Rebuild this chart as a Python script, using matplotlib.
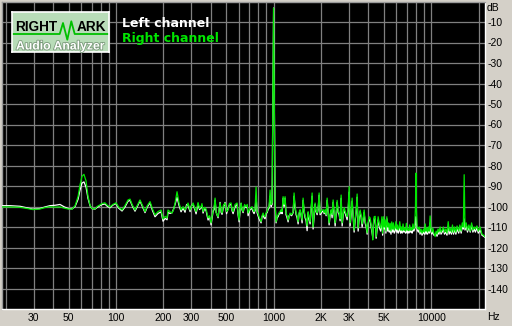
import matplotlib
matplotlib.use("Agg")
import matplotlib.pyplot as plt
from matplotlib import patheffects

# spectrum: frequency (Hz), right channel (green), left channel (white), dB
freq = [
    18.9, 21.2, 24.6, 27.0, 29.7, 32.9, 35.5, 38.1, 41.0, 44.1, 47.0, 49.6, 52.6, 55.0, 57.4, 59.1,
    60.8, 62.6, 64.5, 66.4, 68.5, 70.4, 73.5, 76.0, 79.1, 82.0, 85.1, 88.0, 91.6, 95.5, 100, 104,
    109.2, 114.1, 119.2, 122.7, 127, 132, 137, 142, 147, 152.8, 158, 164.4, 170, 176.8, 184.8, 193.1,
    198.8, 205, 210.8, 213.9, 220, 226.8, 232, 237, 243.9, 251.2, 258.6, 266.3, 274.2, 280.5, 286.5, 295.1,
    301, 308.3, 315, 322.2, 331.6, 339, 346.6, 351, 356.8, 365, 372.8, 383.9, 392, 401.1, 407, 413,
    419, 425.3, 432, 444.3, 451, 457.5, 465, 471, 480, 492.1, 503, 514.2, 525, 537.3, 545, 553.3,
    570, 586.5, 595, 604, 612, 621.9, 630, 640.4, 655, 669, 680, 689, 708, 730.3, 740, 751.9,
    763, 774.3, 785.7, 797, 808.9, 820, 833.1, 845, 857.7, 870, 883.1, 897, 909.3, 922.7, 936, 950.1,
    964, 978, 1000, 1022, 1037, 1053, 1068, 1085, 1100, 1116, 1132, 1149, 1166, 1183, 1200, 1218,
    1236, 1255, 1273, 1301, 1330, 1349, 1370, 1390, 1410, 1431, 1452, 1473, 1495, 1517, 1539, 1562,
    1585, 1608, 1632, 1656, 1680, 1705, 1730, 1756, 1781, 1808, 1834, 1860, 1889, 1917, 1945, 1973,
    2018, 2063, 2093, 2123, 2155, 2187, 2220, 2251, 2284, 2318, 2352, 2387, 2422, 2458, 2494, 2531,
    2568, 2606, 2644, 2683, 2723, 2763, 2804, 2866, 2929, 2972, 3016, 3060, 3105, 3151, 3197, 3244,
    3292, 3340, 3390, 3440, 3490, 3542, 3594, 3647, 3700, 3755, 3810, 3867, 3924, 3981, 4040, 4100,
    4160, 4221, 4260, 4300, 4346, 4410, 4475, 4541, 4608, 4630, 4700, 4780, 4870, 4920, 4990, 5045,
    5100, 5160, 5230, 5300, 5360, 5420, 5490, 5560, 5620, 5690, 5760, 5830, 5900, 5970, 6040, 6110,
    6180, 6250, 6320, 6400, 6470, 6550, 6630, 6700, 6790, 6880, 6960, 7050, 7130, 7220, 7300, 7390,
    7480, 7570, 7660, 7760, 7860, 7950, 8000, 8050, 8150, 8300, 8400, 8500, 8620, 8750, 8950, 9060,
    9160, 9270, 9380, 9490, 9600, 9730, 9850, 9970, 10100, 10240, 10400, 10600, 10750, 10900, 11050, 11200,
    11400, 11550, 11750, 11960, 12150, 12380, 12600, 12830, 13000, 13200, 13450, 13650, 13870, 14100, 14350, 14600,
    14960, 15200, 15500, 15750, 16000, 16200, 16400, 16700, 17000, 17350, 17700, 18050, 18400, 18750, 19080, 19500,
    19900, 20470, 21000, 21500, 21960,
]
right_db = [
    -100.2, -100.2, -100.4, -100.9, -101.5, -101.2, -100.5, -100.1, -100.3, -100.2, -100.8, -101.2, -101.3, -99.6, -95.2, -89.5,
    -85.3, -84.3, -87.5, -95.0, -99.5, -101.0, -101.2, -100.0, -99.2, -98.5, -98.2, -99.4, -100.2, -99.0, -98.2, -100.3,
    -101.7, -99.5, -96.8, -96.4, -99.3, -101.7, -99.2, -96.8, -99.4, -102.5, -99.6, -97.6, -101.0, -104.1, -102.5, -101.7,
    -106.1, -104.8, -105.6, -101.7, -102.6, -103.2, -101.5, -98.3, -92.8, -98.3, -101.7, -100.1, -101.7, -100.0, -98.3, -101.7,
    -100.0, -98.3, -100.5, -102.5, -98.1, -101.0, -100.1, -98.6, -102.5, -100.4, -101.2, -105.6, -104.5, -108.0, -105.0, -101.7,
    -100.5, -95.9, -103.0, -105.0, -101.0, -98.3, -102.0, -103.2, -99.5, -98.3, -102.5, -101.7, -98.5, -98.3, -101.5, -102.5,
    -99.0, -98.3, -103.0, -106.6, -102.0, -98.3, -101.0, -102.5, -99.0, -100.1, -99.0, -103.2, -101.0, -100.1, -101.5, -102.5,
    -101.0, -90.5, -102.5, -103.5, -105.0, -106.0, -107.4, -104.5, -103.2, -104.5, -105.0, -103.0, -102.5, -100.7, -100.0, -92.0,
    -99.0, -98.0, -3.2, -98.0, -107.5, -105.0, -104.1, -103.0, -102.5, -101.5, -102.5, -95.2, -99.0, -95.2, -103.2, -104.5,
    -106.6, -105.0, -103.2, -104.0, -102.5, -93.4, -100.0, -103.2, -104.5, -107.4, -103.0, -101.5, -104.0, -106.6, -95.9, -102.0,
    -104.5, -106.0, -109.5, -102.5, -105.0, -107.4, -101.0, -93.4, -110.0, -104.0, -98.3, -102.0, -103.2, -101.0, -93.4, -103.2,
    -102.0, -101.5, -103.0, -101.5, -104.0, -95.9, -103.0, -108.0, -104.0, -101.5, -104.0, -96.8, -103.0, -108.0, -103.0, -97.0,
    -102.0, -103.2, -106.0, -94.4, -108.0, -104.0, -100.5, -103.0, -105.0, -101.0, -90.3, -108.0, -103.0, -95.9, -104.0, -111.5,
    -106.0, -102.0, -93.9, -110.5, -105.0, -101.7, -104.5, -108.5, -106.0, -101.7, -107.0, -109.0, -112.9, -108.0, -105.0, -105.6,
    -109.0, -112.3, -116.3, -108.0, -105.0, -104.8, -114.7, -110.0, -105.0, -106.0, -109.0, -110.5, -105.0, -113.0, -105.0, -110.0,
    -106.5, -112.0, -105.0, -110.0, -108.0, -111.5, -108.2, -112.0, -107.5, -111.0, -108.0, -111.5, -110.5, -107.4, -111.0, -109.0,
    -111.5, -110.5, -107.4, -111.5, -110.0, -111.8, -108.5, -111.5, -110.5, -112.0, -108.2, -111.5, -111.0, -111.8, -109.0, -111.5,
    -110.5, -111.5, -108.5, -111.0, -110.0, -100.0, -83.7, -100.0, -110.5, -111.0, -110.0, -112.5, -111.0, -113.0, -111.0, -112.5,
    -108.5, -112.0, -110.5, -112.5, -110.0, -112.0, -104.6, -111.0, -112.5, -110.5, -113.0, -114.7, -112.0, -113.5, -111.0, -112.5,
    -110.0, -112.5, -111.5, -110.0, -112.5, -111.0, -113.0, -107.4, -112.0, -110.5, -112.5, -109.0, -112.5, -110.0, -112.5, -109.5,
    -112.0, -109.0, -112.0, -108.0, -110.0, -84.5, -110.5, -108.0, -111.5, -109.0, -112.0, -108.0, -111.5, -110.0, -111.0, -109.5,
    -112.0, -110.0, -113.5, -114.0, -114.7,
]
left_db = [
    -99.6, -99.6, -99.9, -100.6, -101.3, -101.0, -100.2, -99.6, -99.4, -99.0, -100.2, -101.0, -101.2, -100.0, -96.5, -92.0,
    -88.6, -88.0, -90.5, -96.0, -99.8, -101.0, -101.3, -100.4, -99.6, -99.0, -98.8, -99.9, -100.6, -99.3, -98.6, -100.8,
    -102.2, -100.2, -97.4, -97.0, -99.8, -102.3, -99.8, -97.3, -100.0, -103.0, -100.2, -98.2, -101.8, -105.0, -103.4, -102.6,
    -107.2, -105.8, -106.5, -102.8, -103.4, -103.0, -101.2, -99.0, -95.5, -99.5, -102.6, -100.8, -102.8, -99.0, -99.5, -102.5,
    -99.5, -99.0, -101.0, -103.6, -98.8, -101.5, -100.6, -99.6, -103.2, -101.0, -102.0, -106.6, -105.0, -109.0, -105.8, -102.4,
    -101.5, -97.0, -102.8, -105.5, -102.0, -98.0, -103.0, -103.8, -100.5, -98.0, -103.5, -101.0, -99.2, -99.0, -102.0, -103.5,
    -100.0, -99.0, -104.0, -107.5, -102.5, -98.5, -101.5, -103.0, -99.5, -100.5, -100.0, -104.5, -101.5, -101.0, -102.5, -103.5,
    -102.0, -95.0, -103.0, -104.5, -106.0, -107.0, -108.0, -105.0, -104.0, -105.5, -106.0, -103.5, -103.0, -101.5, -100.8, -95.0,
    -100.0, -99.0, -3.2, -99.0, -108.0, -105.5, -105.0, -103.5, -103.5, -102.0, -103.5, -96.0, -100.0, -96.0, -104.0, -105.5,
    -107.5, -104.5, -103.8, -104.5, -103.0, -95.0, -101.0, -104.0, -105.5, -108.5, -103.5, -102.0, -104.5, -108.0, -97.0, -102.5,
    -105.5, -107.0, -111.8, -103.0, -106.0, -108.5, -102.0, -95.0, -111.0, -105.0, -99.0, -102.5, -104.0, -101.5, -94.5, -104.0,
    -103.0, -102.0, -103.5, -102.5, -104.5, -97.0, -103.5, -109.0, -104.5, -102.0, -105.5, -98.0, -103.5, -109.5, -104.0, -98.0,
    -103.0, -104.0, -107.0, -96.0, -109.5, -104.5, -101.5, -104.0, -106.5, -102.0, -93.0, -109.5, -104.0, -97.5, -105.0, -112.5,
    -107.0, -103.0, -95.5, -112.0, -106.0, -102.5, -105.5, -110.0, -106.5, -103.0, -108.0, -110.0, -113.5, -108.5, -106.0, -107.0,
    -110.0, -113.0, -115.0, -109.0, -106.0, -106.0, -115.5, -111.0, -106.5, -107.0, -110.5, -112.0, -106.5, -114.0, -106.0, -111.0,
    -108.0, -113.0, -106.0, -112.0, -110.0, -112.5, -111.5, -113.5, -110.0, -112.5, -111.0, -113.0, -112.0, -109.0, -112.5, -111.0,
    -113.0, -112.0, -110.0, -113.0, -111.5, -113.0, -110.0, -112.5, -112.0, -113.0, -110.0, -113.0, -112.0, -113.0, -110.5, -112.5,
    -112.0, -113.0, -110.5, -112.0, -111.0, -108.0, -105.0, -108.0, -111.5, -112.5, -111.0, -113.5, -112.0, -114.0, -112.0, -113.5,
    -110.0, -113.5, -111.5, -113.5, -111.0, -113.0, -108.0, -112.5, -113.5, -112.0, -114.0, -114.0, -113.0, -114.5, -112.5, -113.5,
    -111.5, -113.5, -112.5, -111.0, -113.5, -112.5, -114.0, -110.0, -113.5, -112.0, -113.5, -110.5, -113.5, -111.0, -113.5, -111.0,
    -113.0, -110.0, -113.0, -110.0, -111.0, -106.0, -111.5, -109.5, -112.5, -110.0, -112.5, -109.0, -112.5, -111.0, -112.5, -110.5,
    -113.0, -111.5, -114.0, -114.5, -115.0,
]

grid_freqs = [20, 30, 40, 50, 60, 70, 80, 90,
              100, 200, 300, 400, 500, 600, 700, 800, 900,
              1000, 2000, 3000, 4000, 5000, 6000, 7000, 8000, 9000,
              10000, 20000]
freq_labels = {30: "30", 50: "50", 100: "100", 200: "200", 300: "300", 500: "500",
               1000: "1000", 2000: "2K", 3000: "3K", 5000: "5K", 10000: "10000"}
db_ticks = list(range(-140, 0, 10))

bg = "#d4d0c8"
green = "#00e600"
W, H = 512, 326

fig = plt.figure(figsize=(W / 100, H / 100), dpi=100, facecolor=bg)
ax = fig.add_axes([2 / W, (H - 309) / H, 483 / W, 307.5 / H])
ax.set_facecolor("black")

ax.plot(freq, left_db, color="white", lw=0.9, zorder=3)
ax.plot(freq, right_db, color=green, lw=0.9, zorder=4)

ax.set_xscale("log")
ax.set_xlim(18.9, 21960)
ax.set_ylim(-150, 0)

ax.set_xticks(grid_freqs)
ax.set_xticklabels([freq_labels.get(f, "") for f in grid_freqs])
ax.xaxis.set_minor_locator(plt.NullLocator())
ax.set_yticks(db_ticks)
ax.set_yticklabels([str(v) for v in db_ticks])
ax.yaxis.tick_right()
ax.tick_params(axis="both", length=0, labelsize=7.5, colors="black")
ax.tick_params(axis="x", pad=3)
ax.tick_params(axis="y", pad=2)
for lab in ax.get_xticklabels() + ax.get_yticklabels():
    lab.set_fontfamily("Liberation Sans")

ax.grid(True, color="#808080", lw=0.9)
ax.set_axisbelow(True)

for side in ("top", "left"):
    ax.spines[side].set_color("#9a9a9a")
for side in ("bottom", "right"):
    ax.spines[side].set_color("white")
for sp in ax.spines.values():
    sp.set_linewidth(1.0)

fig.text(487 / W, 1 - 8 / H, "dB", ha="left", va="center", fontsize=7.5, family="Liberation Sans")
fig.text(487 / W, 1 - 317 / H, "Hz", ha="left", va="center", fontsize=7.5, family="Liberation Sans")

# legend
fig.text(122 / W, 1 - 27 / H, "Left channel", color="white", fontsize=9, fontweight="bold",
         family="DejaVu Sans", va="baseline")
fig.text(122 / W, 1 - 42 / H, "Right channel", color=green, fontsize=9, fontweight="bold",
         family="DejaVu Sans", va="baseline")

# RightMark logo
logo = fig.add_axes([12 / W, (H - 52) / H, 97 / W, 40 / H])
logo.set_xlim(0, 97)
logo.set_ylim(40, 0)
logo.set_facecolor("#b8dcb8")
logo.set_xticks([])
logo.set_yticks([])
for sp in logo.spines.values():
    sp.set_color("white")
    sp.set_linewidth(1.2)
logo.plot([1, 47.7, 51, 55.3, 59.3, 62.7, 96], [22, 22, 11, 27.7, 9.3, 22, 22], color="#00c000", lw=1.3)
logo.text(2.7, 19, "RIGHT", fontsize=9.8, fontweight="bold", family="Liberation Sans",
          color="black", va="baseline")
logo.text(64.3, 19, "ARK", fontsize=9.8, fontweight="bold", family="Liberation Sans",
          color="black", va="baseline")
logo.text(4.0, 37.5, "Audio Analyzer", fontsize=8.8, fontweight="bold", family="Liberation Sans",
          color="white", va="baseline",
          path_effects=[patheffects.withStroke(linewidth=1.2, foreground="#7a9a7a")])

fig.savefig("out.png", dpi=100, facecolor=bg)
